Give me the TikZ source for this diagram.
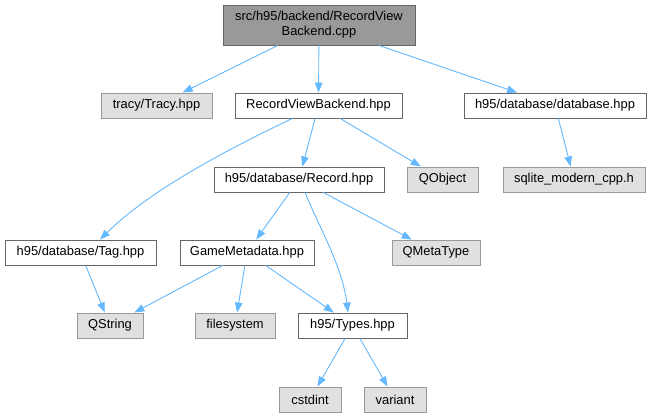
\documentclass[tikz,border=0pt]{standalone}
\usepackage{fontspec}
\setmainfont{Liberation Sans}
\usetikzlibrary{arrows.meta}
\definecolor{edgeblue}{HTML}{63B8FF}
\definecolor{extfill}{HTML}{E0E0E0}
\definecolor{extdraw}{HTML}{999999}
\definecolor{intdraw}{HTML}{666666}
\definecolor{rootfill}{HTML}{999999}
\begin{document}
\begin{tikzpicture}[x=1pt,y=-1pt,
  box/.style={draw, line width=0.9pt, inner sep=0pt, minimum height=25pt, align=center,
    font=\fontsize{12.9}{15}\selectfont},
  intbox/.style={box, draw=intdraw, fill=white},
  extbox/.style={box, draw=extdraw, fill=extfill},
  rootbox/.style={box, draw=intdraw, fill=rootfill, minimum height=40pt},
  edge/.style={draw=edgeblue, line width=0.9pt, -{Triangle[length=10pt,width=7.5pt,fill=edgeblue]}}]
\useasboundingbox (0,0) rectangle (651,417);
\node[rootbox, minimum width=192pt] (root) at (319,25) {src/h95/backend/RecordView\\Backend.cpp};
\node[extbox, minimum width=111pt] (tracy) at (156.5,105.5) {tracy/Tracy.hpp};
\node[intbox, minimum width=167pt] (rvb) at (318.5,105.5) {RecordViewBackend.hpp};
\node[intbox, minimum width=182pt] (db) at (555,105.5) {h95/database/database.hpp};
\node[intbox, minimum width=170pt] (rec) at (299,179.5) {h95/database/Record.hpp};
\node[extbox, minimum width=71pt] (qobj) at (442.5,179.5) {QObject};
\node[extbox, minimum width=142pt] (sqlite) at (574,179.5) {sqlite\_modern\_cpp.h};
\node[intbox, minimum width=151pt] (tag) at (80.5,252.5) {h95/database/Tag.hpp};
\node[intbox, minimum width=134pt] (gm) at (247,252.5) {GameMetadata.hpp};
\node[extbox, minimum width=88pt] (qmeta) at (436,252.5) {QMetaType};
\node[extbox, minimum width=66pt] (qstr) at (110,325.5) {QString};
\node[extbox, minimum width=80pt] (fs) at (235,325.5) {filesystem};
\node[intbox, minimum width=109pt] (types) at (352.5,325.5) {h95/Types.hpp};
\node[extbox, minimum width=62pt] (cstd) at (310,399.5) {cstdint};
\node[extbox, minimum width=62pt] (var) at (395,399.5) {variant};

\path[edge] (root) -- (tracy);
\path[edge] (root) -- (rvb);
\path[edge] (root) -- (db);
\path[edge] ([xshift=-26pt]rvb.south) .. controls (230,148) and (150,190) .. ([xshift=19.5pt]tag.north);
\path[edge] (rvb) -- (rec);
\path[edge] (rvb) -- (qobj);
\path[edge] (db) -- (sqlite);
\path[edge] (rec) -- (gm);
\path[edge] ([xshift=6pt]rec.south) .. controls (318,225) and (342,265) .. ([xshift=-4.5pt]types.north);
\path[edge] (rec) -- (qmeta);
\path[edge] (tag) -- (qstr);
\path[edge] (gm) -- (qstr);
\path[edge] (gm) -- (fs);
\path[edge] (gm) -- (types);
\path[edge] (types) -- (cstd);
\path[edge] (types) -- (var);
\end{tikzpicture}
\end{document}
